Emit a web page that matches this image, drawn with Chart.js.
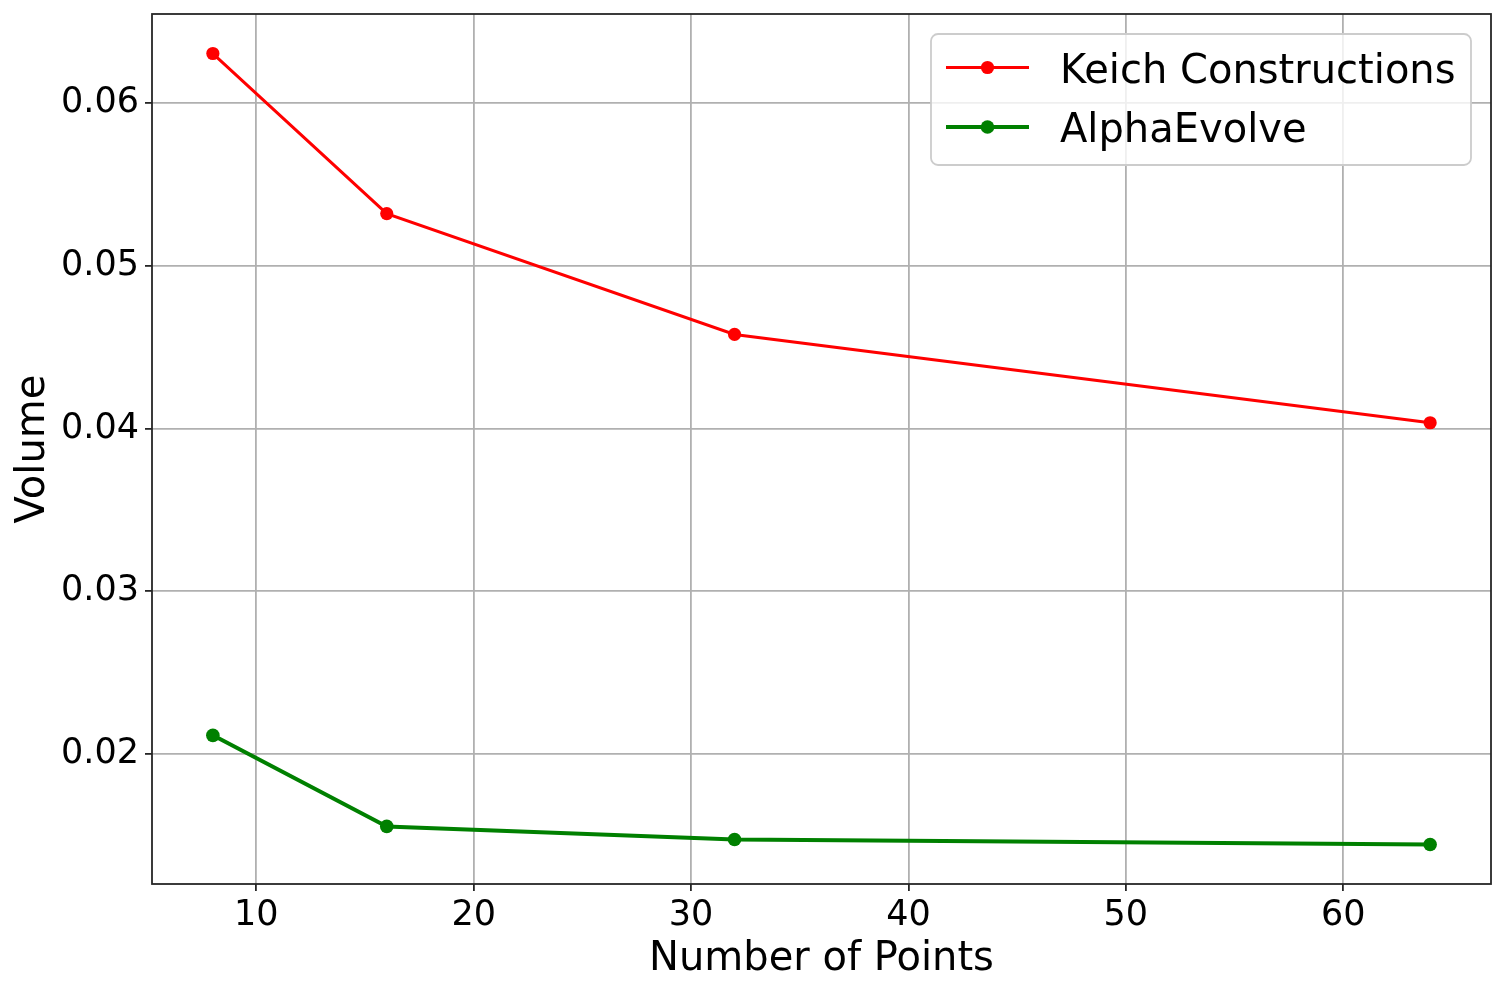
<!DOCTYPE html>
<html>
<head>
<meta charset="utf-8">
<title>Volume vs Number of Points</title>
<script src="https://cdn.jsdelivr.net/npm/chart.js@4.4.1/dist/chart.umd.min.js"></script>
<style>
  html, body { margin: 0; padding: 0; background: #ffffff; }
  canvas { display: block; }
</style>
</head>
<body>
<canvas id="chart" width="1505" height="993" style="width:1505px;height:993px"></canvas>
<script>
"use strict";
// data
var numPoints = [8, 16, 32, 64];
var keichVolume = [0.06306, 0.05322, 0.04579, 0.04036];
var alphaEvolveVolume = [0.02114, 0.01554, 0.01474, 0.01443];
var xTickValues = [10, 20, 30, 40, 50, 60];
var yTickValues = [0.02, 0.03, 0.04, 0.05, 0.06];

var FONT = "'DejaVu Sans', 'Liberation Sans', sans-serif";
var FRAME = "#262626";

function toPoints(xs, ys) {
  return xs.map(function (x, i) { return { x: x, y: ys[i] }; });
}

// matplotlib style box round the plot area
var framePlugin = {
  id: "frame",
  afterDatasetsDraw: function (chart) {
    var a = chart.chartArea, ctx = chart.ctx;
    ctx.save();
    ctx.strokeStyle = FRAME;
    ctx.lineWidth = 1.8;
    ctx.strokeRect(a.left, a.top, a.right - a.left, a.bottom - a.top);
    ctx.restore();
  }
};

// legend with line + marker sample, upper right
var legendPlugin = {
  id: "mplLegend",
  afterDraw: function (chart) {
    var ctx = chart.ctx;
    var box = { x: 931, y: 34, w: 540, h: 131 };
    ctx.save();
    ctx.beginPath();
    ctx.roundRect(box.x, box.y, box.w, box.h, 7);
    ctx.fillStyle = "rgba(255,255,255,0.8)";
    ctx.fill();
    ctx.strokeStyle = "#cccccc";
    ctx.lineWidth = 1.8;
    ctx.stroke();

    chart.data.datasets.forEach(function (ds, i) {
      var cy = 67.5 + i * 59.5;
      ctx.beginPath();
      ctx.moveTo(946, cy);
      ctx.lineTo(1029, cy);
      ctx.strokeStyle = ds.borderColor;
      ctx.lineWidth = ds.borderWidth;
      ctx.stroke();
      ctx.beginPath();
      ctx.arc(987.5, cy, ds.pointRadius, 0, Math.PI * 2);
      ctx.fillStyle = ds.pointBackgroundColor;
      ctx.fill();
      ctx.fillStyle = "#000000";
      ctx.font = "40px " + FONT;
      ctx.textAlign = "left";
      ctx.textBaseline = "alphabetic";
      ctx.fillText(ds.label, 1060, cy + 15);
    });
    ctx.restore();
  }
};

new Chart(document.getElementById("chart"), {
  type: "line",
  data: {
    datasets: [
      {
        label: "Keich Constructions",
        data: toPoints(numPoints, keichVolume),
        borderColor: "#ff0000",
        backgroundColor: "#ff0000",
        pointBackgroundColor: "#ff0000",
        borderWidth: 3,
        pointRadius: 6.6,
        pointBorderWidth: 0,
        tension: 0
      },
      {
        label: "AlphaEvolve",
        data: toPoints(numPoints, alphaEvolveVolume),
        borderColor: "#008000",
        backgroundColor: "#008000",
        pointBackgroundColor: "#008000",
        borderWidth: 4,
        pointRadius: 6.8,
        pointBorderWidth: 0,
        tension: 0
      }
    ]
  },
  options: {
    responsive: false,
    animation: false,
    devicePixelRatio: 1,
    layout: { padding: { left: 0, right: 14, top: 14, bottom: 0 } },
    plugins: {
      legend: { display: false },
      tooltip: { enabled: false }
    },
    scales: {
      x: {
        type: "linear",
        min: 5.2,
        max: 66.8,
        afterBuildTicks: function (scale) {
          scale.ticks = xTickValues.map(function (v) { return { value: v }; });
        },
        afterFit: function (scale) {
          scale.height = 109;
          scale.paddingLeft = 0;
          scale.paddingRight = 0;
        },
        border: { display: false },
        grid: {
          color: "#b0b0b0",
          lineWidth: 1.8,
          drawTicks: true,
          tickLength: 7,
          tickColor: FRAME,
          tickWidth: 1.8
        },
        ticks: {
          color: "#000000",
          padding: 4,
          maxRotation: 0,
          font: { family: FONT, size: 35 },
          callback: function (v) { return String(v); }
        },
        title: {
          display: true,
          text: "Number of Points",
          color: "#000000",
          font: { family: FONT, size: 40 },
          padding: { top: 0, bottom: 9 }
        }
      },
      y: {
        type: "linear",
        min: 0.0120,
        max: 0.06549,
        afterBuildTicks: function (scale) {
          scale.ticks = yTickValues.map(function (v) { return { value: v }; });
        },
        afterFit: function (scale) {
          scale.width = 152;
          scale.paddingTop = 0;
          scale.paddingBottom = 0;
        },
        border: { display: false },
        grid: {
          color: "#b0b0b0",
          lineWidth: 1.8,
          drawTicks: true,
          tickLength: 7,
          tickColor: FRAME,
          tickWidth: 1.8
        },
        ticks: {
          color: "#000000",
          padding: 6,
          font: { family: FONT, size: 35 },
          callback: function (v) { return v.toFixed(2); }
        },
        title: {
          display: true,
          text: "Volume",
          color: "#000000",
          font: { family: FONT, size: 40 },
          padding: { top: 10, bottom: 0 }
        }
      }
    }
  },
  plugins: [framePlugin, legendPlugin]
});
</script>
</body>
</html>
